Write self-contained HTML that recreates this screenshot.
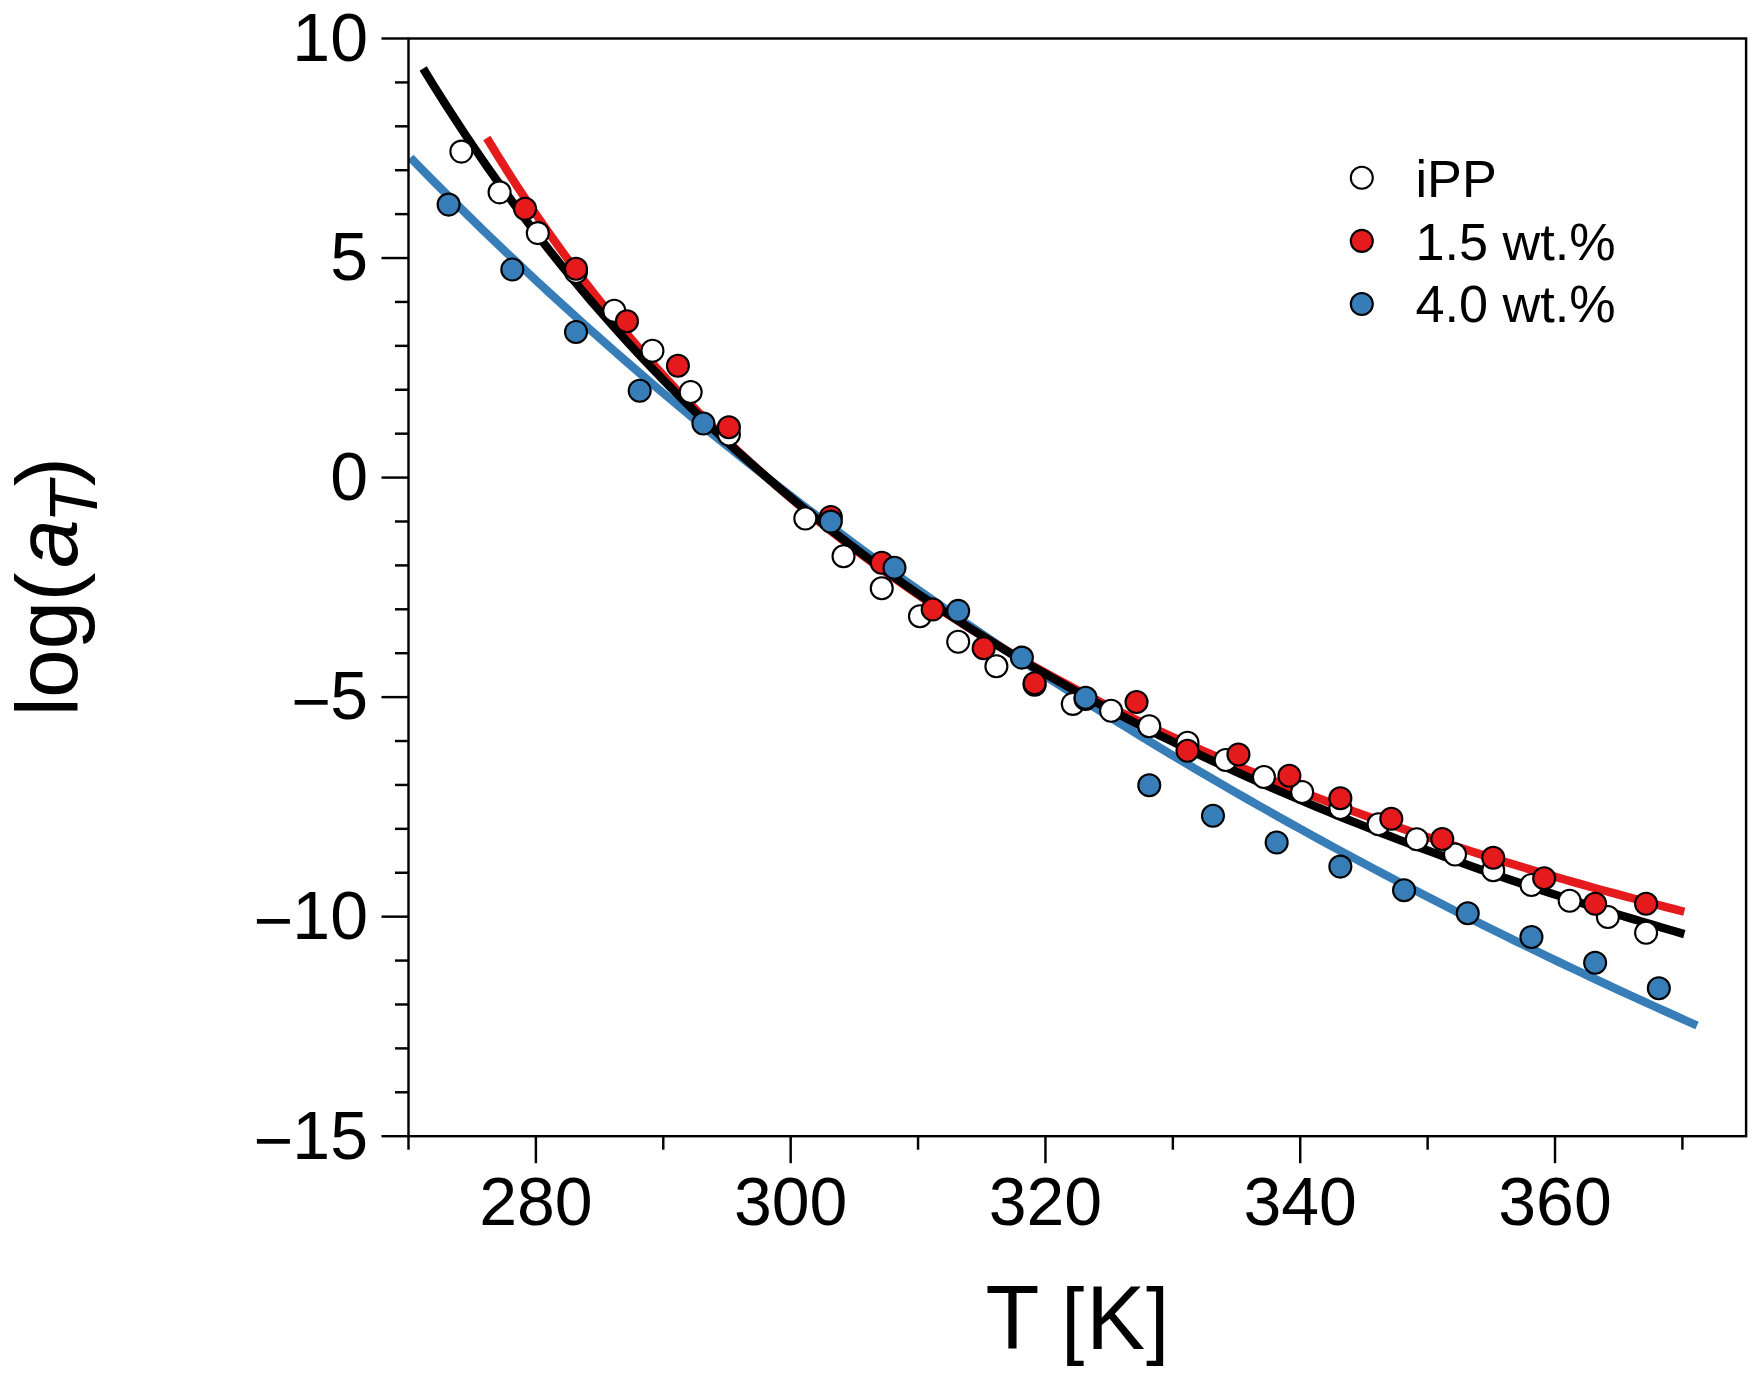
<!DOCTYPE html>
<html lang="en"><head><meta charset="utf-8"><title>log(aT) vs T</title>
<style>html,body{margin:0;padding:0;background:#fff}body{width:1760px;height:1379px;overflow:hidden}svg{display:block}text{font-family:"Liberation Sans",sans-serif;fill:#000}</style></head><body>
<svg width="1760" height="1379" viewBox="0 0 1760 1379">
<rect width="1760" height="1379" fill="#fff"/>
<g fill="none" stroke-width="8.4" stroke-linecap="butt" stroke-linejoin="round">
<path stroke="#377eb8" d="M410.41 157.67 L421.13 168.63 L431.85 179.49 L442.58 190.27 L453.30 200.95 L464.02 211.54 L474.74 222.04 L485.46 232.45 L496.19 242.77 L506.91 253.01 L517.63 263.16 L528.35 273.23 L539.07 283.21 L549.80 293.12 L560.52 302.94 L571.24 312.68 L581.96 322.34 L592.68 331.92 L603.41 341.43 L614.13 350.86 L624.85 360.21 L635.57 369.49 L646.29 378.70 L657.02 387.83 L667.74 396.89 L678.46 405.88 L689.18 414.80 L699.90 423.65 L710.63 432.43 L721.35 441.14 L732.07 449.79 L742.79 458.37 L753.51 466.88 L764.24 475.33 L774.96 483.72 L785.68 492.04 L796.40 500.30 L807.12 508.50 L817.85 516.63 L828.57 524.71 L839.29 532.73 L850.01 540.68 L860.73 548.58 L871.46 556.42 L882.18 564.20 L892.90 571.93 L903.62 579.60 L914.34 587.22 L925.07 594.78 L935.79 602.28 L946.51 609.73 L957.23 617.13 L967.95 624.48 L978.68 631.77 L989.40 639.02 L1000.12 646.21 L1010.84 653.35 L1021.56 660.44 L1032.29 667.49 L1043.01 674.48 L1053.73 681.43 L1064.45 688.33 L1075.17 695.18 L1085.90 701.98 L1096.62 708.74 L1107.34 715.45 L1118.06 722.12 L1128.78 728.74 L1139.51 735.32 L1150.23 741.85 L1160.95 748.34 L1171.67 754.79 L1182.39 761.19 L1193.12 767.55 L1203.84 773.87 L1214.56 780.15 L1225.28 786.39 L1236.00 792.58 L1246.73 798.74 L1257.45 804.85 L1268.17 810.93 L1278.89 816.97 L1289.61 822.97 L1300.34 828.93 L1311.06 834.85 L1321.78 840.73 L1332.50 846.58 L1343.22 852.39 L1353.95 858.17 L1364.67 863.91 L1375.39 869.61 L1386.11 875.27 L1396.83 880.90 L1407.56 886.50 L1418.28 892.06 L1429.00 897.59 L1439.72 903.08 L1450.44 908.54 L1461.17 913.97 L1471.89 919.36 L1482.61 924.73 L1493.33 930.05 L1504.05 935.35 L1514.78 940.62 L1525.50 945.85 L1536.22 951.05 L1546.94 956.22 L1557.66 961.36 L1568.39 966.47 L1579.11 971.55 L1589.83 976.60 L1600.55 981.62 L1611.27 986.61 L1622.00 991.57 L1632.72 996.50 L1643.44 1001.41 L1654.16 1006.28 L1664.88 1011.13 L1675.61 1015.95 L1686.33 1020.74 L1697.05 1025.51"/>
<path stroke="#e41a1c" d="M486.84 138.00 L496.82 154.29 L506.80 170.17 L516.78 185.66 L526.76 200.76 L536.74 215.49 L546.72 229.87 L556.70 243.90 L566.68 257.60 L576.65 270.99 L586.63 284.07 L596.61 296.85 L606.59 309.34 L616.57 321.55 L626.55 333.50 L636.53 345.18 L646.51 356.62 L656.49 367.81 L666.46 378.76 L676.44 389.49 L686.42 399.99 L696.40 410.28 L706.38 420.37 L716.36 430.25 L726.34 439.93 L736.32 449.43 L746.30 458.74 L756.27 467.87 L766.25 476.83 L776.23 485.61 L786.21 494.24 L796.19 502.70 L806.17 511.01 L816.15 519.17 L826.13 527.18 L836.11 535.04 L846.08 542.77 L856.06 550.36 L866.04 557.82 L876.02 565.15 L886.00 572.36 L895.98 579.44 L905.96 586.41 L915.94 593.25 L925.92 599.99 L935.89 606.61 L945.87 613.13 L955.85 619.54 L965.83 625.85 L975.81 632.06 L985.79 638.17 L995.77 644.19 L1005.75 650.11 L1015.73 655.94 L1025.70 661.68 L1035.68 667.33 L1045.66 672.90 L1055.64 678.39 L1065.62 683.80 L1075.60 689.12 L1085.58 694.37 L1095.56 699.54 L1105.54 704.64 L1115.51 709.66 L1125.49 714.62 L1135.47 719.50 L1145.45 724.31 L1155.43 729.06 L1165.41 733.74 L1175.39 738.36 L1185.37 742.92 L1195.35 747.41 L1205.32 751.84 L1215.30 756.22 L1225.28 760.54 L1235.26 764.79 L1245.24 769.00 L1255.22 773.15 L1265.20 777.24 L1275.18 781.29 L1285.16 785.28 L1295.13 789.22 L1305.11 793.11 L1315.09 796.95 L1325.07 800.75 L1335.05 804.50 L1345.03 808.20 L1355.01 811.85 L1364.99 815.47 L1374.97 819.04 L1384.94 822.56 L1394.92 826.05 L1404.90 829.49 L1414.88 832.89 L1424.86 836.26 L1434.84 839.58 L1444.82 842.86 L1454.80 846.11 L1464.78 849.32 L1474.75 852.50 L1484.73 855.63 L1494.71 858.74 L1504.69 861.80 L1514.67 864.84 L1524.65 867.84 L1534.63 870.80 L1544.61 873.74 L1554.59 876.64 L1564.56 879.51 L1574.54 882.35 L1584.52 885.16 L1594.50 887.94 L1604.48 890.70 L1614.46 893.42 L1624.44 896.11 L1634.42 898.78 L1644.40 901.41 L1654.37 904.02 L1664.35 906.61 L1674.33 909.17 L1684.31 911.70"/>
<path stroke="#000" d="M423.15 68.58 L433.66 85.61 L444.17 102.26 L454.68 118.54 L465.19 134.46 L475.70 150.02 L486.21 165.26 L496.72 180.16 L507.23 194.75 L517.74 209.03 L528.25 223.02 L538.76 236.72 L549.27 250.14 L559.78 263.29 L570.29 276.18 L580.79 288.82 L591.30 301.20 L601.81 313.35 L612.32 325.27 L622.83 336.96 L633.34 348.43 L643.85 359.68 L654.36 370.73 L664.87 381.58 L675.38 392.23 L685.89 402.69 L696.40 412.96 L706.91 423.05 L717.42 432.96 L727.93 442.71 L738.44 452.28 L748.95 461.69 L759.46 470.95 L769.97 480.05 L780.48 488.99 L790.99 497.79 L801.50 506.45 L812.01 514.96 L822.52 523.34 L833.03 531.59 L843.54 539.70 L854.05 547.69 L864.56 555.55 L875.07 563.29 L885.58 570.92 L896.09 578.42 L906.59 585.82 L917.10 593.10 L927.61 600.27 L938.12 607.34 L948.63 614.30 L959.14 621.17 L969.65 627.93 L980.16 634.60 L990.67 641.17 L1001.18 647.65 L1011.69 654.04 L1022.20 660.33 L1032.71 666.55 L1043.22 672.67 L1053.73 678.71 L1064.24 684.67 L1074.75 690.55 L1085.26 696.35 L1095.77 702.08 L1106.28 707.73 L1116.79 713.30 L1127.30 718.80 L1137.81 724.23 L1148.32 729.59 L1158.83 734.88 L1169.34 740.11 L1179.85 745.27 L1190.36 750.36 L1200.87 755.39 L1211.38 760.36 L1221.89 765.27 L1232.39 770.11 L1242.90 774.90 L1253.41 779.63 L1263.92 784.30 L1274.43 788.92 L1284.94 793.48 L1295.45 797.99 L1305.96 802.45 L1316.47 806.85 L1326.98 811.20 L1337.49 815.51 L1348.00 819.76 L1358.51 823.96 L1369.02 828.12 L1379.53 832.23 L1390.04 836.29 L1400.55 840.31 L1411.06 844.29 L1421.57 848.22 L1432.08 852.10 L1442.59 855.95 L1453.10 859.75 L1463.61 863.51 L1474.12 867.23 L1484.63 870.92 L1495.14 874.56 L1505.65 878.16 L1516.16 881.73 L1526.67 885.26 L1537.18 888.75 L1547.69 892.21 L1558.19 895.63 L1568.70 899.01 L1579.21 902.36 L1589.72 905.68 L1600.23 908.97 L1610.74 912.22 L1621.25 915.44 L1631.76 918.62 L1642.27 921.78 L1652.78 924.90 L1663.29 927.99 L1673.80 931.06 L1684.31 934.09"/>
</g>
<g fill="#fff" stroke="#000" stroke-width="2.1">
<circle cx="461.37" cy="151.60" r="11"/>
<circle cx="499.58" cy="192.35" r="11"/>
<circle cx="537.80" cy="233.10" r="11"/>
<circle cx="576.02" cy="271.95" r="11"/>
<circle cx="614.23" cy="310.70" r="11"/>
<circle cx="652.45" cy="350.70" r="11"/>
<circle cx="690.67" cy="391.95" r="11"/>
<circle cx="728.89" cy="434.45" r="11"/>
<circle cx="805.32" cy="518.50" r="11"/>
<circle cx="843.54" cy="556.30" r="11"/>
<circle cx="881.75" cy="588.30" r="11"/>
<circle cx="919.97" cy="616.20" r="11"/>
<circle cx="958.19" cy="641.80" r="11"/>
<circle cx="996.40" cy="666.20" r="11"/>
<circle cx="1034.62" cy="684.80" r="11"/>
<circle cx="1072.84" cy="703.90" r="11"/>
<circle cx="1111.06" cy="710.70" r="11"/>
<circle cx="1149.27" cy="726.20" r="11"/>
<circle cx="1187.49" cy="742.70" r="11"/>
<circle cx="1225.71" cy="759.95" r="11"/>
<circle cx="1263.92" cy="776.95" r="11"/>
<circle cx="1302.14" cy="791.95" r="11"/>
<circle cx="1340.36" cy="807.95" r="11"/>
<circle cx="1378.57" cy="824.20" r="11"/>
<circle cx="1416.79" cy="839.20" r="11"/>
<circle cx="1455.01" cy="854.45" r="11"/>
<circle cx="1493.23" cy="870.20" r="11"/>
<circle cx="1531.44" cy="884.95" r="11"/>
<circle cx="1569.66" cy="900.70" r="11"/>
<circle cx="1607.88" cy="916.95" r="11"/>
<circle cx="1646.09" cy="932.70" r="11"/>
</g>
<g fill="#e41a1c" stroke="#000" stroke-width="2.1">
<circle cx="525.06" cy="208.70" r="11"/>
<circle cx="576.02" cy="268.70" r="11"/>
<circle cx="626.97" cy="321.20" r="11"/>
<circle cx="677.93" cy="365.70" r="11"/>
<circle cx="728.89" cy="427.20" r="11"/>
<circle cx="830.80" cy="516.95" r="11"/>
<circle cx="881.75" cy="562.80" r="11"/>
<circle cx="932.71" cy="609.55" r="11"/>
<circle cx="983.67" cy="648.20" r="11"/>
<circle cx="1034.62" cy="683.20" r="11"/>
<circle cx="1085.58" cy="699.00" r="11"/>
<circle cx="1136.53" cy="701.95" r="11"/>
<circle cx="1187.49" cy="750.70" r="11"/>
<circle cx="1238.45" cy="754.45" r="11"/>
<circle cx="1289.40" cy="775.70" r="11"/>
<circle cx="1340.36" cy="798.20" r="11"/>
<circle cx="1391.31" cy="818.80" r="11"/>
<circle cx="1442.27" cy="838.95" r="11"/>
<circle cx="1493.23" cy="857.70" r="11"/>
<circle cx="1544.18" cy="878.20" r="11"/>
<circle cx="1595.14" cy="903.70" r="11"/>
<circle cx="1646.09" cy="903.70" r="11"/>
</g>
<g fill="#377eb8" stroke="#000" stroke-width="2.1">
<circle cx="448.63" cy="204.60" r="11"/>
<circle cx="512.32" cy="269.45" r="11"/>
<circle cx="576.02" cy="331.95" r="11"/>
<circle cx="639.71" cy="390.70" r="11"/>
<circle cx="703.41" cy="423.45" r="11"/>
<circle cx="830.80" cy="521.60" r="11"/>
<circle cx="894.49" cy="567.80" r="11"/>
<circle cx="958.19" cy="610.90" r="11"/>
<circle cx="1021.88" cy="657.60" r="11"/>
<circle cx="1085.58" cy="697.70" r="11"/>
<circle cx="1149.27" cy="785.20" r="11"/>
<circle cx="1212.97" cy="815.70" r="11"/>
<circle cx="1276.66" cy="842.45" r="11"/>
<circle cx="1340.36" cy="866.60" r="11"/>
<circle cx="1404.05" cy="890.20" r="11"/>
<circle cx="1467.75" cy="913.20" r="11"/>
<circle cx="1531.44" cy="936.95" r="11"/>
<circle cx="1595.14" cy="962.70" r="11"/>
<circle cx="1658.83" cy="988.20" r="11"/>
</g>
<g fill="none" stroke="#000" stroke-width="2.45" stroke-linecap="butt">
<rect x="408.50" y="38.50" width="1337.60" height="1097.70"/>
<path d="M381.50 1136.20H408.50"/>
<path d="M395.00 1092.29H408.50"/>
<path d="M395.00 1048.38H408.50"/>
<path d="M395.00 1004.48H408.50"/>
<path d="M395.00 960.57H408.50"/>
<path d="M381.50 916.66H408.50"/>
<path d="M395.00 872.75H408.50"/>
<path d="M395.00 828.84H408.50"/>
<path d="M395.00 784.94H408.50"/>
<path d="M395.00 741.03H408.50"/>
<path d="M381.50 697.12H408.50"/>
<path d="M395.00 653.21H408.50"/>
<path d="M395.00 609.30H408.50"/>
<path d="M395.00 565.40H408.50"/>
<path d="M395.00 521.49H408.50"/>
<path d="M381.50 477.58H408.50"/>
<path d="M395.00 433.67H408.50"/>
<path d="M395.00 389.76H408.50"/>
<path d="M395.00 345.86H408.50"/>
<path d="M395.00 301.95H408.50"/>
<path d="M381.50 258.04H408.50"/>
<path d="M395.00 214.13H408.50"/>
<path d="M395.00 170.22H408.50"/>
<path d="M395.00 126.32H408.50"/>
<path d="M395.00 82.41H408.50"/>
<path d="M381.50 38.50H408.50"/>
<path d="M408.50 1136.20V1149.70"/>
<path d="M535.89 1136.20V1163.20"/>
<path d="M663.28 1136.20V1149.70"/>
<path d="M790.67 1136.20V1163.20"/>
<path d="M918.06 1136.20V1149.70"/>
<path d="M1045.45 1136.20V1163.20"/>
<path d="M1172.84 1136.20V1149.70"/>
<path d="M1300.23 1136.20V1163.20"/>
<path d="M1427.62 1136.20V1149.70"/>
<path d="M1555.01 1136.20V1163.20"/>
<path d="M1682.40 1136.20V1149.70"/>
</g>
<g font-size="68" text-anchor="end">
<text x="368" y="60.80">10</text>
<text x="368" y="280.34">5</text>
<text x="368" y="499.88">0</text>
<text y="719.42"><tspan x="291.47" dy="5.5" text-anchor="start">−</tspan><tspan x="368" dy="-5.5" text-anchor="end">5</tspan></text>
<text y="938.96"><tspan x="253.65" dy="5.5" text-anchor="start">−</tspan><tspan x="368" dy="-5.5" text-anchor="end">10</tspan></text>
<text y="1158.50"><tspan x="253.65" dy="5.5" text-anchor="start">−</tspan><tspan x="368" dy="-5.5" text-anchor="end">15</tspan></text>
</g>
<g font-size="68" text-anchor="middle">
<text x="535.89" y="1224.6">280</text>
<text x="790.67" y="1224.6">300</text>
<text x="1045.45" y="1224.6">320</text>
<text x="1300.23" y="1224.6">340</text>
<text x="1555.01" y="1224.6">360</text>
</g>
<text transform="translate(0 1349) scale(0.967 1)" font-size="91.3"><tspan x="1019.13">T</tspan> <tspan x="1097.52" dy="-0.9" font-size="85.8">[</tspan><tspan x="1123.27" dy="0.9">K</tspan><tspan x="1185.01" dy="-0.9" font-size="85.8">]</tspan></text>
<text transform="translate(77 720.00) rotate(-90) scale(1 1)" font-size="87.5"><tspan x="3.50">l</tspan><tspan x="21.95">o</tspan><tspan x="70.45">g</tspan><tspan x="118.50">(</tspan><tspan x="152.05" font-style="italic">a</tspan><tspan x="197.15" font-style="italic" font-size="68" dy="19.6">T</tspan><tspan x="233.70" dy="-19.6">)</tspan></text>
<g stroke="#000" stroke-width="2.1">
<circle cx="1361.8" cy="177.8" r="11" fill="#fff"/>
<circle cx="1361.8" cy="240.9" r="11" fill="#e41a1c"/>
<circle cx="1361.8" cy="304.0" r="11" fill="#377eb8"/>
</g>
<g font-size="51.5">
<text transform="translate(1415.5 196.7) scale(1.0135 1)">iPP</text>
<text transform="translate(1415.5 259.6) scale(1.0135 1)">1.5 wt.%</text>
<text transform="translate(1415.5 322.4) scale(1.0135 1)">4.0 wt.%</text>
</g>
</svg></body></html>
